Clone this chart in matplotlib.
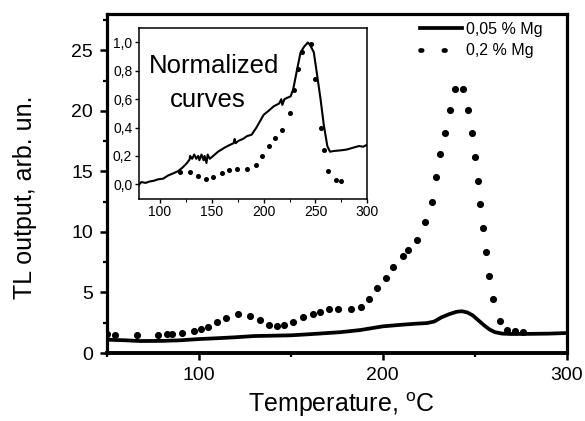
import matplotlib
matplotlib.use("Agg")
import matplotlib.pyplot as plt
from matplotlib.lines import Line2D
from matplotlib.ticker import MultipleLocator, FuncFormatter

plt.rcParams['font.family'] = ['Liberation Sans', 'DejaVu Sans']
plt.rcParams['mathtext.fontset'] = 'custom'
plt.rcParams['mathtext.rm'] = 'Liberation Sans'

# ---- main panel data ----
t_low = [50, 60, 68, 80, 90, 100, 110, 120, 130, 140, 150, 160, 170, 177, 188,
         200, 210, 218, 224, 228, 232, 236, 240, 243, 246, 249, 252, 255, 258,
         261, 265, 270, 280, 290, 300]
tl_low = [1.1, 1.05, 0.99, 1.0, 1.05, 1.15, 1.22, 1.3, 1.4, 1.43, 1.46, 1.55,
          1.65, 1.72, 1.9, 2.2, 2.33, 2.42, 2.47, 2.6, 2.95, 3.2, 3.4, 3.45,
          3.35, 3.1, 2.7, 2.3, 1.95, 1.72, 1.6, 1.57, 1.58, 1.6, 1.65]

t_high = [50.3, 54.5, 66.3, 78, 82.6, 85.7, 91, 97.6, 101, 105, 109.8, 115,
          121.5, 127.9, 133.3, 138.4, 142.4, 146.4, 151.4, 156.8, 162, 166,
          171, 175.5, 183, 188, 192.7, 197, 201.6, 205.8, 210.9, 213.9, 218.5,
          223, 226.6, 228.8, 231, 233.8, 236.5, 239.2, 243.5, 246.5, 248.4,
          250.2, 251.6, 252.9, 254.3, 256.1, 257.9, 260.1, 263.8, 267.7,
          271.9, 276.4]
tl_high = [1.55, 1.52, 1.47, 1.52, 1.6, 1.6, 1.69, 1.8, 2.0, 2.15, 2.57, 2.85,
           3.18, 3.04, 2.7, 2.3, 2.2, 2.3, 2.57, 2.98, 3.26, 3.4, 3.6, 3.6,
           3.67, 3.8, 4.45, 5.33, 6.16, 7.12, 8.0, 8.5, 9.33, 10.8, 12.5,
           14.5, 16.4, 18.2, 20.1, 21.8, 21.8, 20.1, 18.2, 16.2, 14.2, 12.3,
           10.3, 8.36, 6.35, 4.42, 2.65, 1.94, 1.82, 1.74]

# ---- inset (normalized) data ----
tn_low = [80, 82, 86, 90, 94, 98, 103, 108, 112, 117.5, 122, 126, 128.5, 129,
          131, 133, 135, 136.8, 138, 140, 142, 143, 144.8, 146, 148, 151.3,
          156, 162.6, 168, 171, 172, 173, 175.5, 180, 184, 188.4, 193, 200,
          205, 209.7, 215, 217, 218, 220, 222.7, 226, 228.5, 232, 235.6, 239,
          242.6, 245, 248.4, 251, 254.9, 258, 261.4, 264, 267.8, 275, 280,
          287.2, 292, 296, 300]
n_low = [0.0, 0.016, 0.01, 0.02, 0.025, 0.035, 0.04, 0.063, 0.075, 0.093,
         0.12, 0.15, 0.175, 0.2, 0.18, 0.21, 0.18, 0.2, 0.17, 0.21, 0.17,
         0.2, 0.15, 0.21, 0.18, 0.2, 0.23, 0.26, 0.28, 0.29, 0.32, 0.29,
         0.306, 0.32, 0.34, 0.35, 0.4, 0.49, 0.52, 0.55, 0.57, 0.6, 0.56,
         0.6, 0.61, 0.62, 0.67, 0.8, 0.93, 0.97, 1.0, 0.98, 0.93, 0.8, 0.6,
         0.42, 0.27, 0.23, 0.235, 0.24, 0.245, 0.26, 0.27, 0.265, 0.28]

tn_high = [118.8, 128.5, 136.6, 144.3, 151.3, 159.4, 166.7, 173.9, 183.6,
           192.6, 198.4, 204.8, 211.4, 217.8, 225.2, 229, 233.3, 237.2,
           245.2, 250, 254.9, 258.1, 262.4, 269.5, 275]
n_high = [0.087, 0.087, 0.059, 0.04, 0.05, 0.083, 0.10, 0.106, 0.106, 0.134,
          0.2, 0.27, 0.325, 0.38, 0.5, 0.665, 0.81, 0.93, 0.99, 0.74, 0.4,
          0.24, 0.094, 0.028, 0.023]

labels = ["0,05 % Mg", "0,2 % Mg"]

W, H = 585, 421
fig = plt.figure(figsize=(W / 100, H / 100), dpi=100)

L, R, T, B = 106.7, 566.7, 14, 353
ax = fig.add_axes([L / W, 1 - B / H, (R - L) / W, (B - T) / H])
ax.plot(t_low, tl_low, color='black', lw=2.7, solid_capstyle='butt')
ax.plot(t_high, tl_high, linestyle='none', marker='o', ms=4.1,
        color='black', mec='black')
ax.set_xlim(50, 300)
ax.set_ylim(0, 28)
ax.xaxis.set_major_locator(MultipleLocator(100))
ax.xaxis.set_minor_locator(MultipleLocator(50))
ax.yaxis.set_major_locator(MultipleLocator(5))
ax.yaxis.set_minor_locator(MultipleLocator(2.5))
for s in ax.spines.values():
    s.set_linewidth(2.3)
ax.spines['bottom'].set_linewidth(2.8)
ax.tick_params(which='major', direction='out', length=5, width=1.8,
               labelsize=14, pad=5)
ax.tick_params(which='minor', direction='out', length=3, width=1.6)
ax.set_xlabel(r'Temperature, $^{\mathrm{o}}$C', fontsize=18)
ax.set_ylabel('TL output, arb. un.', fontsize=18)
ax.xaxis.label.set_va('baseline')
ax.yaxis.label.set_va('baseline')
ax.xaxis.set_label_coords(0.51, (B - 412) / (B - T))
ax.yaxis.set_label_coords((31.7 - L) / (R - L), (B - 197.5) / (B - T))

h_solid = Line2D([], [], color='black', lw=2.7)
h_dot = Line2D([], [], color='black', lw=3.4, linestyle=(0, (0.35, 4.6)),
               dash_capstyle='round')
leg = ax.legend([h_solid, h_dot], labels, loc='upper left',
                bbox_to_anchor=((420 - L) / (R - L), (B - 22) / (B - T)),
                frameon=False, fontsize=11.5, handlelength=2.6,
                handletextpad=0.25, borderpad=0, borderaxespad=0,
                labelspacing=0.4)

# ---- inset ----
iL, iR, iT, iB = 139.3, 367.3, 28.3, 198.5
axi = fig.add_axes([iL / W, 1 - iB / H, (iR - iL) / W, (iB - iT) / H])
axi.plot(tn_low, n_low, color='black', lw=1.5)
axi.plot(tn_high, n_high, linestyle='none', marker='o', ms=2.6,
         color='black', mec='black')
axi.set_xlim(80, 300)
axi.set_ylim(-0.1, 1.1)
axi.xaxis.set_major_locator(MultipleLocator(50))
axi.xaxis.set_minor_locator(MultipleLocator(25))
axi.set_yticks([0, 0.2, 0.4, 0.6, 0.8, 1.0])
axi.yaxis.set_major_formatter(FuncFormatter(lambda v, p: f"{v:.1f}".replace('.', ',')))
for s in axi.spines.values():
    s.set_linewidth(1.1)
axi.tick_params(which='major', direction='out', length=3, width=1,
                labelsize=10, pad=2)
axi.tick_params(which='minor', direction='out', length=2, width=0.8)
axi.text((214 - iL) / (iR - iL), (iB - 73) / (iB - iT), 'Normalized',
         transform=axi.transAxes, ha='center', va='baseline', fontsize=18.5)
axi.text((207.5 - iL) / (iR - iL), (iB - 106.7) / (iB - iT), 'curves',
         transform=axi.transAxes, ha='center', va='baseline', fontsize=18.5)

fig.savefig('out.png', dpi=100)
